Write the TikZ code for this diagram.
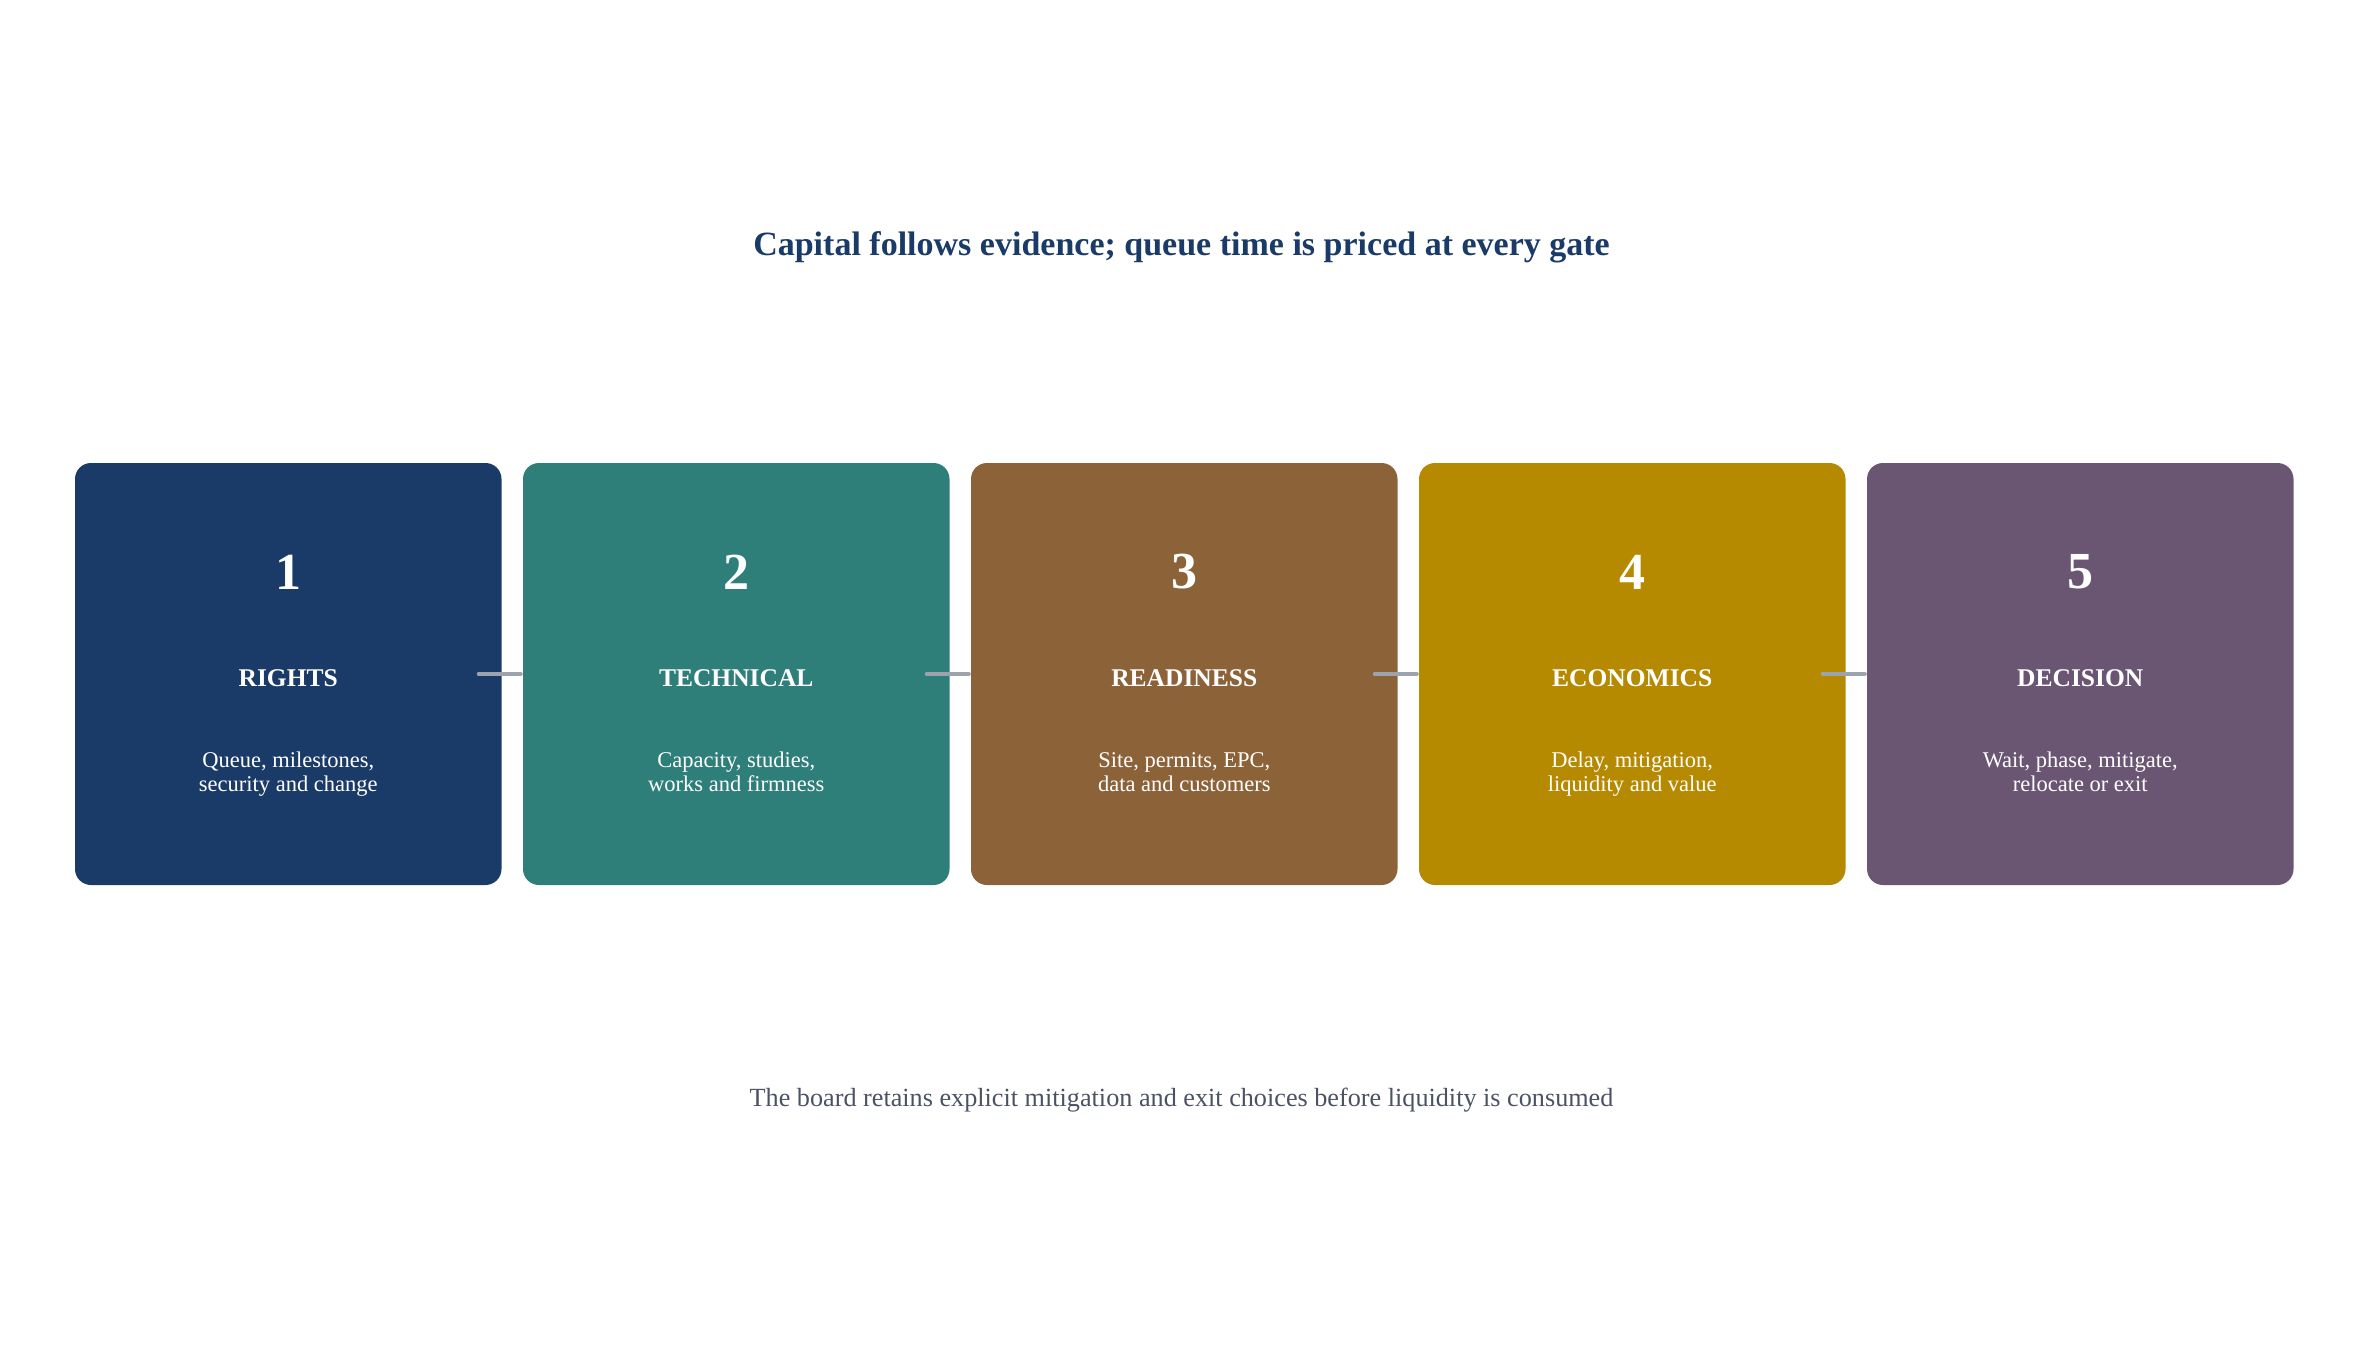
\documentclass[tikz,border=0pt]{standalone}
\usepackage{fontspec}
\setmainfont{Liberation Serif}
\usetikzlibrary{shapes,arrows}
\usetikzlibrary{positioning,calc}
\definecolor{navy}{HTML}{1A3A67}
\definecolor{teal}{HTML}{2E7E7A}
\definecolor{brown}{HTML}{8C6239}
\definecolor{gold}{HTML}{B58900}
\definecolor{plum}{HTML}{6A5673}
\definecolor{linkgray}{HTML}{9CA3AD}
\definecolor{notegray}{HTML}{4B5263}
\tikzstyle{block} = [rectangle, rounded corners=16pt, inner sep=0pt,
    minimum width=426.5pt, minimum height=422pt]
\tikzstyle{num} = [text=white, inner sep=0pt, font=\fontsize{52}{56}\selectfont\bfseries]
\tikzstyle{head} = [text=white, inner sep=0pt, font=\fontsize{25.5}{28}\selectfont\bfseries]
\tikzstyle{desc} = [text=white, inner sep=0pt, align=center, font=\fontsize{22.5}{24}\selectfont]
\tikzstyle{link} = [draw=linkgray, line width=4pt, line cap=round, shorten >=2pt]

\begin{document}
\begin{tikzpicture}[x=1pt,y=-1pt]
  \useasboundingbox (0,0) rectangle (2363,1351);
  % Title and note
  \node [text=navy, font=\fontsize{34}{38}\selectfont\bfseries] (title) at (1181.5,247)
  {Capital follows evidence; queue time is priced at every gate};
  \node [text=notegray, font=\fontsize{26.2}{30}\selectfont] (note) at (1181.5,1100)
  {The board retains explicit mitigation and exit choices before liquidity is consumed};
  % Place boxes
  \node [block, fill=navy] (rights) at (288.25,674) {};
  \node [block, fill=teal, right of=rights, node distance=448pt] (technical) {};
  \node [block, fill=brown, right of=technical, node distance=448pt] (readiness) {};
  \node [block, fill=gold, right of=readiness, node distance=448pt] (economics) {};
  \node [block, fill=plum, right of=economics, node distance=448pt] (decision) {};
  % Draw edges
  \draw [link] ($(rights.east)+(-23,0)$) -- (technical.west);
  \draw [link] ($(technical.east)+(-23,0)$) -- (readiness.west);
  \draw [link] ($(readiness.east)+(-23,0)$) -- (economics.west);
  \draw [link] ($(economics.east)+(-23,0)$) -- (decision.west);
  % Box texts
  \node [num, above of=rights, node distance=102pt] (n1) {1};
  \node [head, below of=rights, node distance=4.5pt] (h1) {RIGHTS};
  \node [desc, below of=rights, node distance=101pt] (d1) {\strut Queue, milestones,\\security and change\strut};
  \node [num, above of=technical, node distance=102pt] (n2) {2};
  \node [head, below of=technical, node distance=4.5pt] (h2) {TECHNICAL};
  \node [desc, below of=technical, node distance=101pt] (d2) {\strut Capacity, studies,\\works and firmness\strut};
  \node [num, above of=readiness, node distance=102pt] (n3) {3};
  \node [head, below of=readiness, node distance=4.5pt] (h3) {READINESS};
  \node [desc, below of=readiness, node distance=101pt] (d3) {\strut Site, permits, EPC,\\data and customers\strut};
  \node [num, above of=economics, node distance=102pt] (n4) {4};
  \node [head, below of=economics, node distance=4.5pt] (h4) {ECONOMICS};
  \node [desc, below of=economics, node distance=101pt] (d4) {\strut Delay, mitigation,\\liquidity and value\strut};
  \node [num, above of=decision, node distance=102pt] (n5) {5};
  \node [head, below of=decision, node distance=4.5pt] (h5) {DECISION};
  \node [desc, below of=decision, node distance=101pt] (d5) {\strut Wait, phase, mitigate,\\relocate or exit\strut};
\end{tikzpicture}
\end{document}
